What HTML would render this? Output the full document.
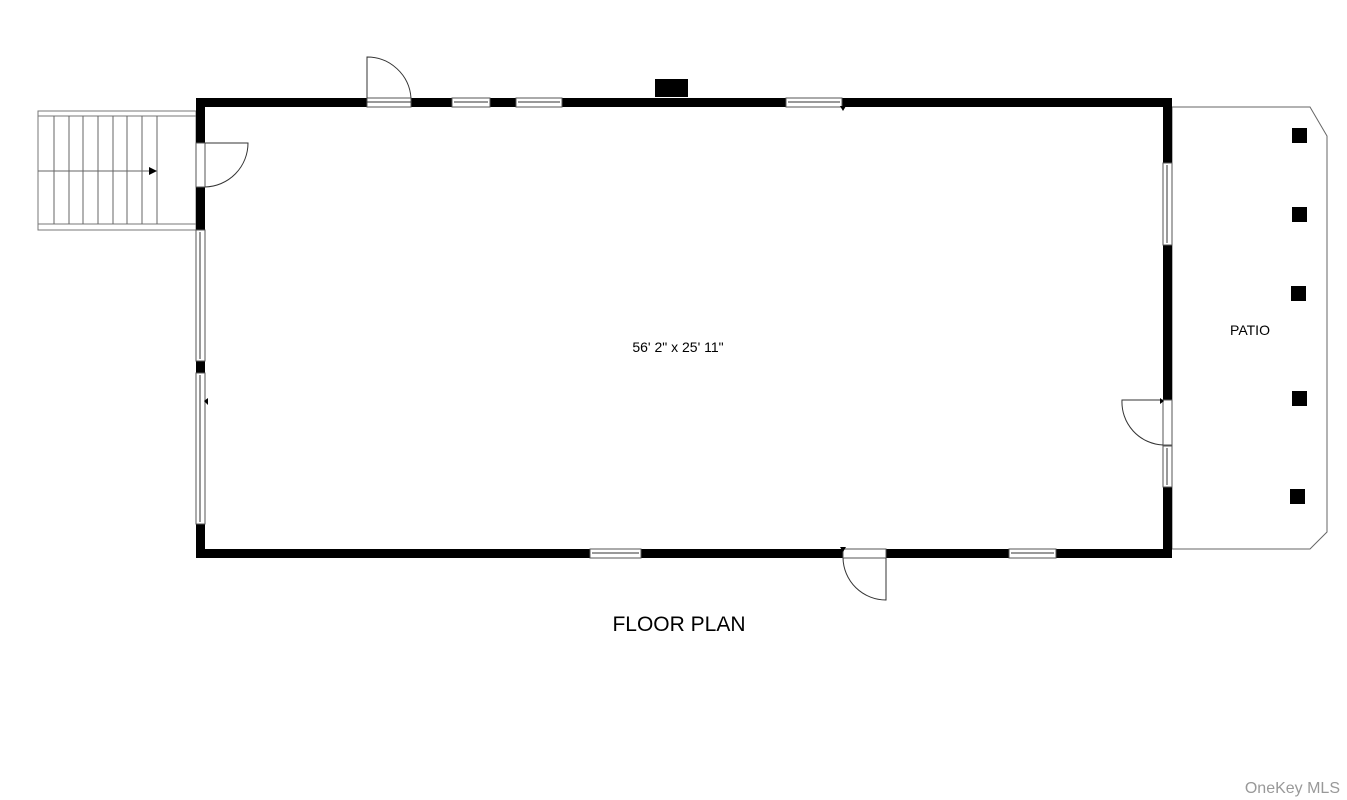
<!DOCTYPE html>
<html><head><style>html,body{margin:0;padding:0;background:#fff}svg{display:block}</style></head><body>
<svg width="1347" height="800" viewBox="0 0 1347 800" xmlns="http://www.w3.org/2000/svg" font-family="Liberation Sans, sans-serif">
<!-- patio -->
<polygon points="1172,107 1310,107 1327,136 1327,532 1310,549 1172,549" fill="#fff" stroke="#666" stroke-width="1"/>
<g fill="#000">
<rect x="1292" y="128" width="15" height="15"/>
<rect x="1292" y="207" width="15" height="15"/>
<rect x="1291" y="286" width="15" height="15"/>
<rect x="1292" y="391" width="15" height="15"/>
<rect x="1290" y="489" width="15" height="15"/>
</g>
<text x="1250" y="335" font-size="14" text-anchor="middle">PATIO</text>
<!-- stairs -->
<rect x="38" y="111" width="158" height="119" fill="#fff" stroke="#777" stroke-width="1"/>
<rect x="38" y="116" width="158" height="108" fill="none" stroke="#777" stroke-width="1"/>
<g stroke="#666" stroke-width="1">
<line x1="54" y1="116" x2="54" y2="224"/><line x1="69" y1="116" x2="69" y2="224"/>
<line x1="83" y1="116" x2="83" y2="224"/><line x1="98" y1="116" x2="98" y2="224"/>
<line x1="113" y1="116" x2="113" y2="224"/><line x1="127" y1="116" x2="127" y2="224"/>
<line x1="142" y1="116" x2="142" y2="224"/><line x1="157" y1="116" x2="157" y2="224"/>
<line x1="38" y1="171" x2="150" y2="171"/>
</g>
<polygon points="149,167 157,171 149,175" fill="#000"/>
<!-- walls -->
<rect x="200.5" y="102.5" width="967" height="451" fill="none" stroke="#000" stroke-width="9"/>
<!-- chimney -->
<rect x="655" y="79" width="33" height="18" fill="#000"/>
<!-- openings -->
<g fill="#fff" stroke="#555" stroke-width="1">
<!-- top door -->
<rect x="367" y="98" width="44" height="9"/>
<!-- top windows -->
<rect x="452" y="98" width="38" height="9"/><rect x="516" y="98" width="46" height="9"/><rect x="786" y="98" width="56" height="9"/>
<!-- left door -->
<rect x="196" y="143" width="9" height="44"/>
<!-- left sliding -->
<rect x="196" y="230" width="9" height="131"/><rect x="196" y="373" width="9" height="151"/>
<!-- right -->
<rect x="1163" y="163" width="9" height="82"/><rect x="1163" y="400" width="9" height="45"/><rect x="1163" y="446" width="9" height="41"/>
<!-- bottom -->
<rect x="590" y="549" width="51" height="9"/><rect x="1009" y="549" width="47" height="9"/><rect x="843" y="549" width="43" height="9"/>
</g>
<g stroke="#333" stroke-width="1" fill="none">
<line x1="454" y1="102" x2="488" y2="102"/><line x1="518" y1="102" x2="560" y2="102"/><line x1="788" y1="102" x2="840" y2="102"/>
<line x1="592" y1="553" x2="639" y2="553"/><line x1="1011" y1="553" x2="1054" y2="553"/>
<line x1="200" y1="232" x2="200" y2="359"/><line x1="200" y1="375" x2="200" y2="522"/>
<line x1="1167" y1="165" x2="1167" y2="243"/><line x1="1167" y1="448" x2="1167" y2="485"/>
<line x1="367" y1="102" x2="411" y2="102"/>
<!-- door swings -->
<path d="M367,98 L367,57 A44,44 0 0 1 411,98"/>
<path d="M205,143 L248,143 A44,44 0 0 1 205,187"/>
<path d="M1163,400 L1122,400 A43,43 0 0 0 1163,445"/>
<path d="M886,558 L886,600 A43,43 0 0 1 843,558"/>
</g>
<polygon points="840,106 846,106 843,111" fill="#000"/>
<polygon points="840,547 846,547 843,552" fill="#000"/>
<polygon points="1160,398 1160,404 1164,401" fill="#000"/>
<polygon points="208,398 208,405 204,401" fill="#000"/>
<text x="678" y="352" font-size="14" text-anchor="middle">56' 2" x 25' 11"</text>
<text x="679" y="631" font-size="21" text-anchor="middle">FLOOR PLAN</text>
<text x="1340" y="793" font-size="16" text-anchor="end" fill="#999">OneKey MLS</text>
</svg>
</body></html>
